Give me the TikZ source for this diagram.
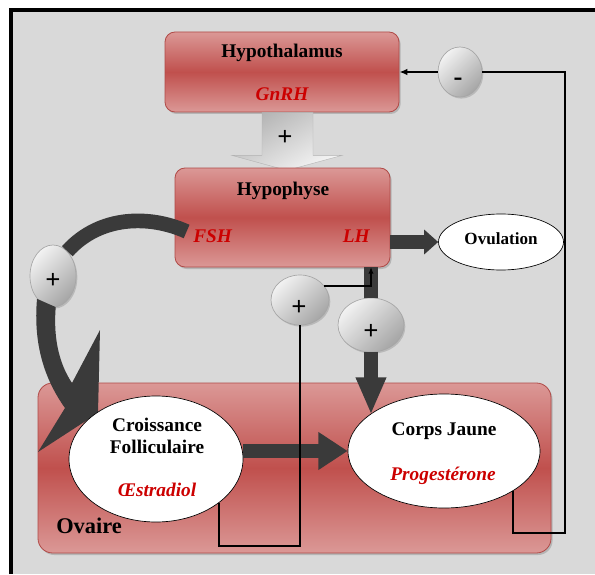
\documentclass[tikz,border=0pt]{standalone}
\usepackage{fontspec}
\setmainfont{Liberation Serif}
\usetikzlibrary{arrows.meta,calc,shadows,shapes.geometric}

\definecolor{bggray}{HTML}{D9D9D9}
\definecolor{boxlight}{HTML}{DB9896}
\definecolor{boxdark}{HTML}{C0504D}
\definecolor{boxedge}{HTML}{B04A47}
\definecolor{hormred}{HTML}{CC0000}
\definecolor{banddark}{HTML}{3A3A3A}

\tikzset{
  organ/.style={rectangle, rounded corners=7.5pt, draw=boxedge, line width=0.6pt,
    top color=boxlight, bottom color=boxlight, middle color=boxdark, inner sep=0pt,
    drop shadow={shadow xshift=1.2pt, shadow yshift=-1.5pt, opacity=0.4}},
  gland/.style={ellipse, draw=black, line width=0.5pt, fill=white, inner sep=0pt},
  ball/.style={ellipse, draw=gray!70, line width=0.5pt, top color=gray!10,
    bottom color=gray!70, shading angle=45, inner sep=0pt,
    drop shadow={shadow xshift=1pt, shadow yshift=-1.2pt, opacity=0.35}},
  title/.style={font=\fontsize{14.5}{17}\selectfont\bfseries, inner sep=0pt, anchor=base},
  hormone/.style={font=\fontsize{14.5}{17}\selectfont\bfseries\itshape, text=hormred,
    inner sep=0pt, anchor=base},
  sign/.style={font=\fontsize{20}{20}\selectfont\bfseries, inner sep=0pt},
  band/.style={draw=banddark, line width=10pt},
  fb/.style={draw=black, line width=1.5pt},
}

\begin{document}
\begin{tikzpicture}[x=0.75pt, y=-0.75pt]
\useasboundingbox (0,0) rectangle (595,574);
\fill[bggray] (11,10) rectangle (595,574);
\draw[line width=2.5pt] (11,574) -- (11,10) -- (595,10);

\node[organ, minimum width=175.5pt, minimum height=60pt] (hyth) at (282,72) {};
\node[title] (hythT) at (282,58) {Hypothalamus};
\node[hormone] (gnrh) at (282,101) {GnRH};

\begin{scope}[shift={(hyth.south)}]
  \shade[top color=gray!60, bottom color=gray!8, shading angle=30, draw=gray!60, line width=0.3pt]
    (-20,0) -- (31,0) -- (31,43) -- (60,43) -- (5,58) -- (-50,43) -- (-20,43) -- cycle;
\end{scope}
\node[sign] (gplus) at ($(hyth.south)+(3,26)$) {+};

\node[organ, minimum width=161.25pt, minimum height=74.25pt] (hyph) at (282.5,217.5) {};
\node[title] (hyphT) at (283,195) {Hypophyse};
\node[hormone, anchor=base west] (fsh) at (193,242) {FSH};
\node[hormone, anchor=base east] (lh) at (370,242) {LH};
\coordinate (lhbot) at (371,267);

\node[gland, minimum width=93.75pt, minimum height=42pt] (ovu) at (501,242) {};
\node[title, font=\fontsize{12.8}{15}\selectfont\bfseries] (ovuT) at (501,244) {Ovulation};

\node[ball, minimum width=33pt, minimum height=37.5pt] (minus) at (460,72) {};
\node[sign] (minusS) at (458,82) {-};
\node[ball, minimum width=34.5pt, minimum height=46.5pt] (plusL) at (53,276) {};
\node[sign] (plusLs) at (53,281) {+};
\node[ball, minimum width=43.5pt, minimum height=37.5pt] (plusM) at (300,300) {};
\node[sign] (plusMs) at (299,308) {+};
\node[ball, minimum width=49.5pt, minimum height=40.5pt] (plusR) at (371,325) {};
\node[sign] (plusRs) at (371,332) {+};

\node[organ, rounded corners=11pt, minimum width=384.75pt, minimum height=127.5pt] (ovaire) at (294.5,468) {};
\node[title, anchor=base west, font=\fontsize{16.8}{19}\selectfont\bfseries] (ovaireT) at (56,533) {Ovaire};

\draw[band, line width=11pt] ($(hyph.west)+(12,14)$) .. controls (150,215) and (100,215) .. (plusL.60);
\fill[banddark] (plusL.-125) .. controls (33,345) and (45,380) .. (65,408) -- (38,452) -- (98,413)
  -- (100,330) -- (72,383) .. controls (60,365) and (53,340) .. (plusL.-85) -- cycle;

\node[gland, minimum width=130.5pt, minimum height=94.5pt] (crois) at (156,459) {};
\node[title] (croisT) at (157,431) {Croissance};
\node[title] (croisF) at (157,453) {Folliculaire};
\node[hormone] (oestr) at (157,496) {Œstradiol};
\node[gland, minimum width=144pt, minimum height=85.5pt] (corps) at (444,451) {};
\node[title] (corpsT) at (444,435) {Corps Jaune};
\node[hormone] (proges) at (443,480) {Progestérone};

\draw[band, -{Triangle[width=18pt,length=10.5pt]}] (hyph.east |- ovu.west) -- (ovu.west);
\draw[band] (lhbot) -- (plusR.north);
\draw[band, -{Triangle[width=21pt,length=28pt]}] (plusR.south) -- (plusR.south |- corps.154);
\draw[band, line width=11pt, -{Triangle[width=27pt,length=22pt]}] (crois.east |- corps.west) -- (corps.west);

\coordinate (fbL) at (300,546);
\coordinate (fbR) at (565,533);
\draw[fb] (crois.-35) |- (fbL) -- (plusM.south);
\draw[fb, -{Latex[length=5pt,width=4pt]}] (plusM.30) -| (lhbot);
\draw[fb] (corps.-30) |- (fbR) |- (minus.east);
\draw[fb, -{Latex[length=6pt,width=5pt]}] (minus.west) -- (hyth.east);
\end{tikzpicture}
\end{document}
